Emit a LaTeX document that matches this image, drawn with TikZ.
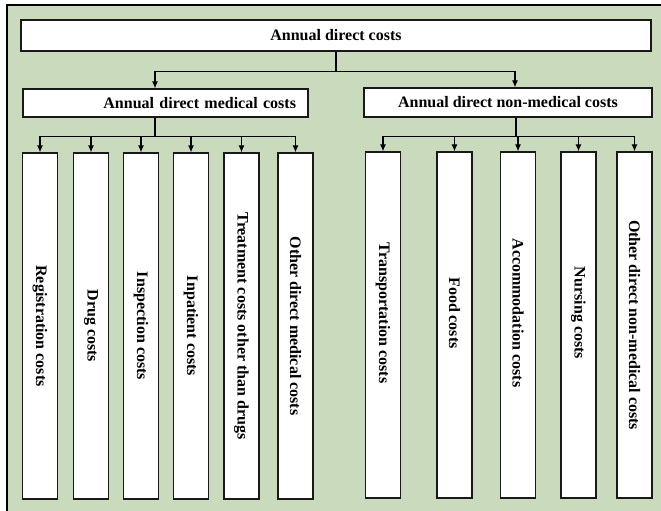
\documentclass[tikz,border=0pt]{standalone}
\usepackage{fontspec}
\setmainfont{Liberation Serif}
\usepackage{graphicx}
\usetikzlibrary{arrows.meta}
\definecolor{panel}{RGB}{201,218,189}

\begin{document}
\begin{tikzpicture}[x=1pt,y=-1pt,font=\fontsize{16}{19}\selectfont\bfseries]
\tikzstyle{box}=[draw=black!90, line width=1.3pt, fill=white, inner sep=0pt]
\tikzstyle{leaf}=[box, minimum width=35pt, minimum height=346pt]
\tikzstyle{wire}=[line width=1.1pt]
\tikzstyle{link}=[wire, -{Latex[length=7pt,width=6pt]}]
\useasboundingbox (0,0) rectangle (661,511);
\fill[white] (0,0) rectangle (661,511);
\fill[panel] (7,5) rectangle (661,511);
\draw[line width=1.3pt] (7,511) -- (7,5) -- (661,5);
\node[box, minimum width=630pt, minimum height=31pt] (top) at (336,35.5) {Annual direct costs};
\node[box, minimum height=28pt, text width=261pt, align=right, inner xsep=12pt] (med) at (165.5,103) {Annual direct medical costs};
\node[box, minimum width=288pt, minimum height=29pt] (non) at (508,102.5) {Annual direct non-medical costs};
% medical leaves
\foreach \x/\t [count=\i] in {40/Registration costs, 91/Drug costs, 141/Inspection costs, 191/Inpatient costs, 241.5/Treatment costs other than drugs, 295.5/Other direct medical costs}
  \node[leaf] (m\i) at (\x,326) {\rotatebox{-90}{\t}};
% non-medical leaves
\foreach \x/\t/\s [count=\i] in {383/Transportation costs/24, 454.5/Food costs/24, 518/Accommodation costs/24, 578.5/Nursing costs/24, 634.5/Other direct non-medical costs/0}
  \node[leaf] (n\i) at (\x,325) {\rotatebox{-90}{\t\hspace{\s pt}}};
\draw[wire] (top.south) -- ++(0,20) coordinate (tj);
\draw[link] (tj) -| ([xshift=-10.5pt]med.north);
\draw[link] (tj) -| ([xshift=7pt]non.north);
\draw[wire] ([xshift=-10.5pt]med.south) -- ++(0,19) coordinate (mj);
\foreach \i in {1,...,6} \draw[link] (mj) -| (m\i.north);
\draw[wire] ([xshift=8pt]non.south) -- ++(0,19) coordinate (nj);
\foreach \i in {1,...,5} \draw[link] (nj) -| (n\i.north);
\end{tikzpicture}
\end{document}
